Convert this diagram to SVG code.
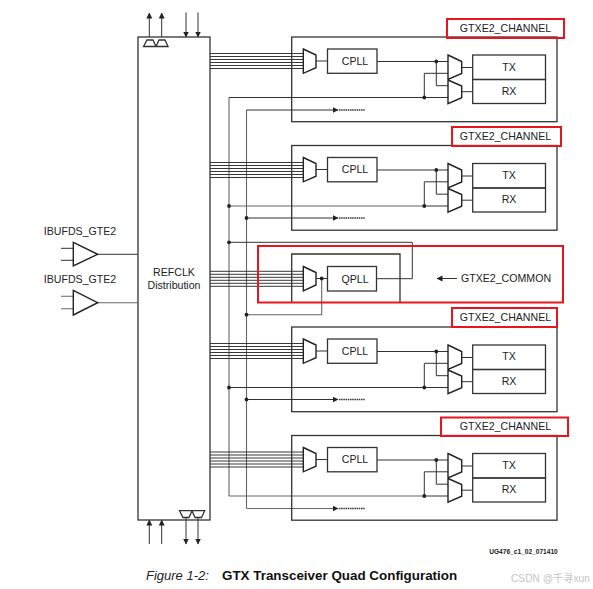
<svg xmlns="http://www.w3.org/2000/svg" width="593" height="589" viewBox="0 0 593 589">
<style>
text{font-family:"Liberation Sans",Arial,sans-serif;fill:#222;font-size:10.6px;text-anchor:middle}
.b{fill:none;stroke:#333;stroke-width:1.3}
.m{fill:#fff;stroke:#222;stroke-width:1.4}
.l{fill:none;stroke:#333;stroke-width:1}
.g{fill:none;stroke:#666;stroke-width:1.1}
.bus{fill:none;stroke:#222;stroke-width:.9}
.d{fill:#222;stroke:none}
.r{fill:none;stroke:#e8141e;stroke-width:2}
.dash{fill:none;stroke:#333;stroke-width:1.6;stroke-dasharray:1.5 .7}
</style>
<defs>
<marker id="ah" markerUnits="userSpaceOnUse" markerWidth="6" markerHeight="8" refX="5.5" refY="3" orient="auto"><path d="M0 0L6 3L0 6Z" fill="#222"/></marker>
<g id="busLines"><path class="bus" d="M210 53.5H303M210 56.5H303M210 59.5H303M210 62.5H303M210 65.5H303M210 68.5H303"/></g>
</defs>
<rect width="593" height="589" fill="#fff"/>
<g id="connectors">
<path class="g" d="M229 97.5V496M246.5 110V508.5"/>
<path class="l" d="M229 97.5H424.3"/>
<path class="l" d="M246.5 110H338" marker-end="url(#ah)"/>
<path class="dash" d="M339 110H365"/>
<use href="#busLines"/>
<path class="g" d="M229 206H424.3"/>
<path class="l" d="M246.5 218H338" marker-end="url(#ah)"/>
<path class="dash" d="M339 218H365"/>
<use href="#busLines" y="109"/>
<path class="l" d="M229 242.3H412.3V278.7H376"/>
<path class="g" d="M246.5 314.7H321.7V278.5"/>
<path class="bus" d="M210 271.3H303M210 274.3H303M210 277.3H303M210 280.3H303M210 283.3H303M210 286.3H303"/>
<use href="#busLines" y="290"/>
<path class="l" d="M229 387.5H424.3"/>
<path class="l" d="M246.5 399.5H338" marker-end="url(#ah)"/>
<path class="dash" d="M339 399.5H365"/>
<use href="#busLines" y="398.5"/>
<path class="g" d="M229 496H424.3"/>
<path class="g" d="M246.5 508.5H338" marker-end="url(#ah)"/>
<path class="dash" d="M339 508.5H365"/>
<circle class="d" cx="229" cy="206" r="1.9"/>
<circle class="d" cx="246.5" cy="218" r="1.9"/>
<circle class="d" cx="229" cy="242.3" r="1.9"/>
<circle class="d" cx="246.5" cy="314.7" r="1.9"/>
<circle class="d" cx="229" cy="387.5" r="1.9"/>
<circle class="d" cx="246.5" cy="399.5" r="1.9"/>
<path class="l" d="M149.3 37V13" marker-end="url(#ah)"/>
<path class="l" d="M161.7 37V13" marker-end="url(#ah)"/>
<path class="l" d="M186 12.5V37" marker-end="url(#ah)"/>
<path class="l" d="M198 12.5V37" marker-end="url(#ah)"/>
<path class="l" d="M149.3 544V520" marker-end="url(#ah)"/>
<path class="l" d="M161.7 544V520" marker-end="url(#ah)"/>
<path class="l" d="M186 517V544" marker-end="url(#ah)"/>
<path class="l" d="M198 517V544" marker-end="url(#ah)"/>
<path class="l" d="M97.7 254.3H137.5"/>
<path class="g" d="M97.7 302.7H137.5"/>
<path class="l" d="M61 248.3H73.3M61 260.3H73.3"/>
<path class="g" d="M61 296.3H73.3M61 308.7H73.3"/>
</g>
<g id="refclk">
<rect class="b" x="138" y="37" width="72" height="483"/>
<path class="b" d="M143.5 46.5L147 40H153L156 46.5ZM156 46.5L159 40H165L168 46.5Z"/>
<path class="b" d="M179.5 510.7H192L189 517.5H183ZM192 510.7H204.7L201.5 517.5H195Z"/>
<text x="174" y="276">REFCLK</text>
<text x="174" y="289">Distribution</text>
</g>
<g id="ibufds1">
<path class="m" d="M73.3 242.3L97.7 254.3L73.3 266Z"/>
<text x="80" y="235">IBUFDS_GTE2</text>
</g>
<g id="ibufds2">
<path class="m" d="M73.3 290.3L97.7 302.7L73.3 315Z"/>
<text x="80" y="283">IBUFDS_GTE2</text>
</g>
<g id="channel1">
<rect class="b" x="291.7" y="37" width="265.3" height="84.7"/>
<path class="l" d="M316 61H327.5M377 61.5H448M436.3 61.5V85.7H448M424.3 97.5V73.3H448M424.3 97.5H448M461.7 67.5H472.7M461.7 91.7H472.7"/>
<circle class="d" cx="436.3" cy="61.5" r="1.9"/><circle class="d" cx="424.3" cy="97.5" r="1.9"/>
<path class="m" d="M303.3 49L316 55V67.7L303.3 73.3Z"/>
<rect class="b" x="327.5" y="49" width="49.5" height="24.3"/>
<path class="m" d="M448 55L461.7 61.5V73.5L448 79.5ZM448 80L461.7 86V97.7L448 103.7Z"/>
<rect class="b" x="472.7" y="55" width="72.8" height="24.5"/><rect class="b" x="472.7" y="79.5" width="72.8" height="24"/>
<text x="355" y="64.5">CPLL</text><text x="509" y="70.5">TX</text><text x="509" y="94.5">RX</text>
<rect class="r" x="447" y="19" width="117" height="19"/>
<text x="505.5" y="32">GTXE2_CHANNEL</text>
</g>
<g id="channel2" transform="translate(0 108.5)">
<rect class="b" x="291.7" y="37" width="265.3" height="84.7"/>
<path class="l" d="M316 61H327.5M377 61.5H448M436.3 61.5V85.7H448M424.3 97.5V73.3H448M424.3 97.5H448M461.7 67.5H472.7M461.7 91.7H472.7"/>
<circle class="d" cx="436.3" cy="61.5" r="1.9"/><circle class="d" cx="424.3" cy="97.5" r="1.9"/>
<path class="m" d="M303.3 49L316 55V67.7L303.3 73.3Z"/>
<rect class="b" x="327.5" y="49" width="49.5" height="24.3"/>
<path class="m" d="M448 55L461.7 61.5V73.5L448 79.5ZM448 80L461.7 86V97.7L448 103.7Z"/>
<rect class="b" x="472.7" y="55" width="72.8" height="24.5"/><rect class="b" x="472.7" y="79.5" width="72.8" height="24"/>
<text x="355" y="64.5">CPLL</text><text x="509" y="70.5">TX</text><text x="509" y="94.5">RX</text>
<rect class="r" x="452" y="18.5" width="109" height="19"/>
<text x="505.5" y="31.5">GTXE2_CHANNEL</text>
</g>
<g id="common">
<path class="b" d="M291.7 302V254H400V302"/>
<path class="l" d="M316 278.5H327.5"/>
<circle class="d" cx="321.7" cy="278.5" r="1.9"/>
<path class="m" d="M303.3 266.5L316 272.5V285L303.3 291Z"/>
<rect class="b" x="327.5" y="266.5" width="49" height="24.5"/>
<text x="355" y="282.5">QPLL</text>
<rect class="r" x="258" y="246" width="305" height="56.5"/>
<path class="l" d="M457 278.5H437" marker-end="url(#ah)"/>
<text x="506" y="282">GTXE2_COMMON</text>
</g>
<g id="channel3" transform="translate(0 290)">
<rect class="b" x="291.7" y="37" width="265.3" height="84.7"/>
<path class="l" d="M316 61H327.5M377 61.5H448M436.3 61.5V85.7H448M424.3 97.5V73.3H448M424.3 97.5H448M461.7 67.5H472.7M461.7 91.7H472.7"/>
<circle class="d" cx="436.3" cy="61.5" r="1.9"/><circle class="d" cx="424.3" cy="97.5" r="1.9"/>
<path class="m" d="M303.3 49L316 55V67.7L303.3 73.3Z"/>
<rect class="b" x="327.5" y="49" width="49.5" height="24.3"/>
<path class="m" d="M448 55L461.7 61.5V73.5L448 79.5ZM448 80L461.7 86V97.7L448 103.7Z"/>
<rect class="b" x="472.7" y="55" width="72.8" height="24.5"/><rect class="b" x="472.7" y="79.5" width="72.8" height="24"/>
<text x="355" y="64.5">CPLL</text><text x="509" y="70">TX</text><text x="509" y="95">RX</text>
<rect class="r" x="452" y="18" width="105" height="19"/>
<text x="505.5" y="31">GTXE2_CHANNEL</text>
</g>
<g id="channel4" transform="translate(0 398.5)">
<rect class="b" x="291.7" y="37" width="265.3" height="84.7"/>
<path class="l" d="M316 61H327.5M377 61.5H448M436.3 61.5V85.7H448M424.3 97.5V73.3H448M424.3 97.5H448M461.7 67.5H472.7M461.7 91.7H472.7"/>
<circle class="d" cx="436.3" cy="61.5" r="1.9"/><circle class="d" cx="424.3" cy="97.5" r="1.9"/>
<path class="m" d="M303.3 49L316 55V67.7L303.3 73.3Z"/>
<rect class="b" x="327.5" y="49" width="49.5" height="24.3"/>
<path class="m" d="M448 55L461.7 61.5V73.5L448 79.5ZM448 80L461.7 86V97.7L448 103.7Z"/>
<rect class="b" x="472.7" y="55" width="72.8" height="24.5"/><rect class="b" x="472.7" y="79.5" width="72.8" height="24"/>
<text x="355" y="64.5">CPLL</text><text x="509" y="70.5">TX</text><text x="509" y="94.5">RX</text>
<rect class="r" x="441" y="19" width="127" height="18.5"/>
<text x="505.5" y="31.5">GTXE2_CHANNEL</text>
</g>
<g id="caption">
<text x="523.5" y="554" style="font-size:6.6px;font-weight:bold">UG476_c1_02_071410</text>
<text x="146" y="580" style="font-size:13px;font-style:italic;text-anchor:start">Figure 1-2:</text>
<text x="222" y="580" style="font-size:13.4px;font-weight:bold;text-anchor:start;fill:#111">GTX Transceiver Quad Configuration</text>
<text x="511" y="582" style="font-size:10.2px;text-anchor:start;fill:#c4c4c4;font-family:'Liberation Sans','Noto Sans CJK SC',sans-serif">CSDN @千寻xun</text>
</g>
</svg>
